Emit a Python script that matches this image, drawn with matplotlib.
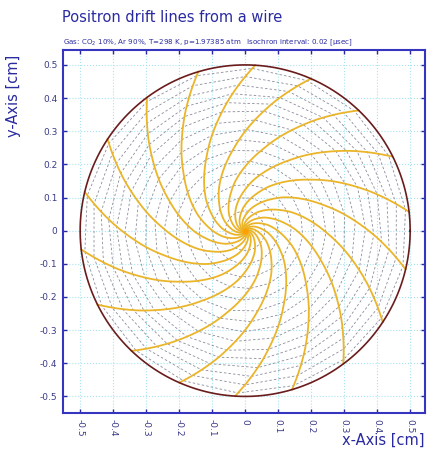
import numpy as np
import matplotlib
matplotlib.use("Agg")
import matplotlib.pyplot as plt

# ---- data ----
# end angles (deg) where each drift line meets the outer boundary
end_angles_deg = [6.5, 26.5, 46.5, 66.5, 86.5, 106.5, 126.5, 146.5, 166.5,
                  -173.5, -153.5, -133.5, -113.5, -93.5, -73.5, -53.5, -33.5, -13.5]
# drift-line profile: radius (cm) and extra rotation (deg) relative to end point
profile_r = [0.0, 0.005, 0.015, 0.03, 0.05, 0.07, 0.10, 0.12, 0.15, 0.20,
             0.25, 0.30, 0.35, 0.40, 0.45, 0.50]
profile_dtheta = [165, 160, 138, 118, 100, 88, 73, 65, 55.5, 42,
                  31.5, 23.5, 16.5, 10.5, 5, 0]
# isochron radii (cm)
iso_r = [0.06, 0.10, 0.14, 0.175, 0.21, 0.245, 0.275, 0.305, 0.335,
         0.365, 0.39, 0.415, 0.44, 0.465, 0.49]
outer_radius = 0.5
ticks = [-0.5, -0.4, -0.3, -0.2, -0.1, 0, 0.1, 0.2, 0.3, 0.4, 0.5]
tick_labels = ["-0.5", "-0.4", "-0.3", "-0.2", "-0.1", "0", "0.1", "0.2", "0.3", "0.4", "0.5"]

title = "Positron drift lines from a wire"
subtitle = "Gas: CO$_2$ 10%, Ar 90%, T=298 K, p=1.97385 atm   Isochron interval: 0.02 [\u03bcsec]"

navy = "#2a2aa0"
fig = plt.figure(figsize=(4.31, 4.53), dpi=100)
ax = fig.add_axes([63/431, 1-413/453, (425-63)/431, (413-50)/453])

# dense curve for a drift line
pr = np.array(profile_r)
pdt = np.array(profile_dtheta)
rr = np.linspace(0, outer_radius, 300)
lr = np.log(pr + 0.003)
dtt = np.interp(np.log(rr + 0.003), lr, pdt)

# isochrons
for ri in iso_r:
    d = np.interp(np.log(ri + 0.003), lr, pdt)
    angs = np.deg2rad(np.sort(np.array(end_angles_deg) + d))
    angs = np.append(angs, angs[0] + 2*np.pi)
    ax.plot(ri*np.cos(angs), ri*np.sin(angs), ls=(0, (3, 2.5)), color="#8c8c9c", lw=0.6, zorder=2)

for a in end_angles_deg:
    th = np.deg2rad(a + dtt)
    ax.plot(rr*np.cos(th), rr*np.sin(th), color="#ebb52a", lw=1.3, zorder=3)

t = np.linspace(0, 2*np.pi, 400)
ax.plot(outer_radius*np.cos(t), outer_radius*np.sin(t), color="#6a1c1c", lw=1.2, zorder=4)
ax.plot([0], [0], 'o', color="#ffa000", ms=3.5, zorder=5)

ax.set_xlim(-0.552, 0.545)
ax.set_ylim(-0.55, 0.545)
ax.set_xticks(ticks)
ax.set_yticks(ticks)
ax.set_xticklabels(tick_labels, rotation=-90, fontsize=6.5, color="#3a3a8a")
ax.set_yticklabels(tick_labels, fontsize=6.5, color="#3a3a8a")
ax.tick_params(direction="in", length=3, width=1, color=navy, top=True, right=True, pad=4)
ax.grid(True, color="#a8e4f0", ls=":", lw=0.8, zorder=0)
for s in ax.spines.values():
    s.set_color("#3535c0")
    s.set_linewidth(1.5)

fig.text(62/431, 1-18/453, title, fontsize=10.5, color=navy, va="center", ha="left")
fig.text(63/431, 1-43/453, subtitle, fontsize=5.1, color=navy, va="center", ha="left")
fig.text(425/431, 1-440/453, "x-Axis [cm]", fontsize=10.5, color=navy, va="center", ha="right")
fig.text(14/431, 1-55/453, "y-Axis [cm]", fontsize=10.5, color=navy, va="top", ha="center", rotation=90)

fig.savefig("out.png", dpi=100)
